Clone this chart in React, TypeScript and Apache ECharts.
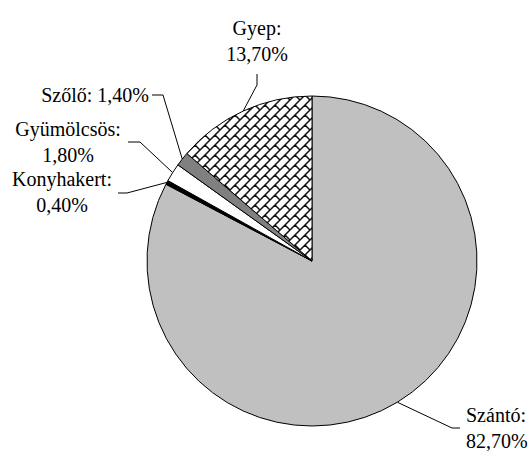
import { useEffect, useRef } from "react";
import * as echarts from "echarts";

// Land use shares (%)
const categories = ["Szántó", "Konyhakert", "Gyümölcsös", "Szőlő", "Gyep"];
const shares = [82.7, 0.4, 1.8, 1.4, 13.7];
const twoLineLabel = [true, true, true, false, true];

const CENTER: [number, number] = [312, 261];
const RADIUS = 165;
const FONT = "Liberation Serif, DejaVu Serif, serif";

// Label anchor and leader-line bend/end points for each slice
const labelPlacement = [
  { x: 466, y: 428, align: "left", bend: [452, 428], end: [460, 428] },
  { x: 62, y: 192, align: "center", bend: [127, 193], end: [118, 193] },
  { x: 68, y: 142, align: "center", bend: [140, 142], end: [128, 142] },
  { x: 149, y: 95, align: "right", bend: [163, 95], end: [152, 95] },
  { x: 257, y: 41, align: "center", bend: [257, 85], end: [257, 74] },
];

function formatPct(v: number): string {
  return v.toFixed(2).replace(".", ",") + "%";
}

// Point on the rim at the middle angle of slice i (clockwise from 12 o'clock)
function rimPoint(i: number): number[] {
  const total = shares.reduce((a, b) => a + b, 0);
  let before = 0;
  for (let k = 0; k < i; k++) before += shares[k];
  const mid = (before + shares[i] / 2) / total;
  const ang = ((90 - 360 * mid) * Math.PI) / 180;
  return [CENTER[0] + RADIUS * Math.cos(ang), CENTER[1] - RADIUS * Math.sin(ang)];
}

// Diagonal brick hatch tile
function brickTile(): HTMLCanvasElement {
  const t = 10;
  const c = document.createElement("canvas");
  c.width = t;
  c.height = t;
  const g = c.getContext("2d")!;
  g.fillStyle = "#ffffff";
  g.fillRect(0, 0, t, t);
  g.strokeStyle = "#111111";
  g.lineWidth = 1.5;
  g.beginPath();
  g.moveTo(-2, t + 2);
  g.lineTo(t + 2, -2);
  g.moveTo(t - 1.5, t + 1.5);
  g.lineTo(t + 1.5, t - 1.5);
  g.moveTo(-1.5, 1.5);
  g.lineTo(1.5, -1.5);
  g.moveTo(t / 2, t / 2);
  g.lineTo(t + 2, t + 2);
  g.moveTo(-2, -2);
  g.lineTo(0.5, 0.5);
  g.stroke();
  return c;
}

export default function App() {
  const ref = useRef<HTMLDivElement>(null);

  useEffect(() => {
    if (!ref.current) return;
    const chart = echarts.init(ref.current, undefined, { renderer: "svg" });
    const fills: any[] = [
      "#c0c0c0",
      "#000000",
      "#ffffff",
      "#808080",
      { image: brickTile(), repeat: "repeat" },
    ];

    chart.setOption({
      animation: false,
      backgroundColor: "#ffffff",
      textStyle: { fontFamily: FONT },
      series: [
        {
          type: "pie",
          center: CENTER,
          radius: RADIUS,
          startAngle: 90,
          clockwise: true,
          avoidLabelOverlap: false,
          emphasis: { disabled: true },
          itemStyle: { borderColor: "#000000", borderWidth: 1 },
          label: {
            show: true,
            position: "outside",
            color: "#000000",
            fontFamily: FONT,
            fontSize: 20,
            lineHeight: 26,
            formatter: (p: any) =>
              p.name + (twoLineLabel[p.dataIndex] ? ":\n" : ": ") + formatPct(p.value),
          },
          labelLine: {
            show: true,
            lineStyle: { color: "#000000", width: 1 },
          },
          labelLayout: (params: any) => {
            const i = params.dataIndex;
            const p = labelPlacement[i];
            return {
              x: p.x,
              y: p.y,
              align: p.align,
              verticalAlign: "middle",
              labelLinePoints: [rimPoint(i), p.bend, p.end],
            };
          },
          data: categories.map((name, i) => ({
            name,
            value: shares[i],
            itemStyle: { color: fills[i] },
          })),
        },
      ],
    });

    return () => chart.dispose();
  }, []);

  return (
    <div
      ref={ref}
      style={{ position: "fixed", left: 0, top: 0, width: 530, height: 451 }}
    />
  );
}
